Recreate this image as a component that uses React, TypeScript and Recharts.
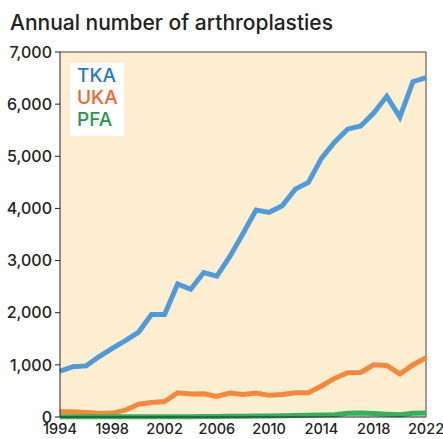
import { LineChart, Line, XAxis, YAxis, CartesianGrid, ReferenceLine } from 'recharts';

const years = [
  1994, 1995, 1996, 1997, 1998, 1999, 2000, 2001, 2002, 2003,
  2004, 2005, 2006, 2007, 2008, 2009, 2010, 2011, 2012, 2013,
  2014, 2015, 2016, 2017, 2018, 2019, 2020, 2021, 2022,
];

const tka = [
  880, 965, 980, 1160, 1315, 1465, 1625, 1965, 1965, 2550,
  2450, 2770, 2700, 3080, 3520, 3970, 3925, 4050, 4370, 4500,
  4960, 5270, 5520, 5580, 5830, 6150, 5750, 6430, 6510,
];

const uka = [
  100, 100, 85, 65, 75, 130, 245, 280, 295, 465,
  440, 445, 395, 460, 430, 460, 415, 430, 465, 465,
  595, 740, 850, 855, 1000, 990, 825, 1000, 1135,
];

const pfa = [
  5, 5, 5, 5, 5, 5, 5, 5, 5, 5,
  5, 8, 10, 12, 15, 18, 20, 25, 30, 35,
  40, 45, 70, 75, 65, 55, 45, 70, 75,
];

const xTicks = [1994, 1998, 2002, 2006, 2010, 2014, 2018, 2022];
const yTicks = [0, 1000, 2000, 3000, 4000, 5000, 6000, 7000];

const series = [
  { key: 'TKA', line: '#4f9bd9', text: '#1f7dc9' },
  { key: 'UKA', line: '#f4883d', text: '#f0652f' },
  { key: 'PFA', line: '#2fb35c', text: '#1f9a4a' },
];

const data = years.map((year, i) => ({ year, TKA: tka[i], UKA: uka[i], PFA: pfa[i] }));

const font = 'Inter, "Liberation Sans", Arial, sans-serif';

// white key box sitting in the top-left of the plot
function LegendBox() {
  return (
    <div
      style={{
        position: 'absolute',
        left: 70,
        top: 63,
        width: 54,
        boxSizing: 'border-box',
        background: '#fff',
        padding: '2px 7px 5px 7px',
        fontFamily: font,
        fontWeight: 500,
        fontSize: 19,
        lineHeight: '22px',
      }}
    >
      {series.map((s) => (
        <div key={s.key} style={{ color: s.text }}>
          {s.key}
        </div>
      ))}
    </div>
  );
}

export default function App() {
  return (
    <div style={{ position: 'absolute', left: 0, top: 0, width: 443, height: 439, background: '#fff' }}>
      <div
        style={{
          position: 'absolute',
          left: 10,
          top: 12,
          fontFamily: font,
          fontWeight: 500,
          fontSize: 21,
          lineHeight: '21px',
          color: '#222',
          whiteSpace: 'nowrap',
        }}
      >
        Annual number of arthroplasties
      </div>
      <LineChart
        width={443}
        height={439}
        data={data}
        margin={{ top: 52, right: 17, left: 0, bottom: 0 }}
      >
        <CartesianGrid horizontal={false} vertical={false} fill="#fdeed2" />
        <XAxis
          dataKey="year"
          type="number"
          domain={[1994, 2022]}
          ticks={xTicks}
          interval={0}
          height={22}
          tickSize={3}
          tickLine={false}
          tickMargin={4}
          stroke="#222"
          tick={{ fill: '#222', fontSize: 14.5, fontWeight: 500, fontFamily: font }}
        />
        <YAxis
          domain={[0, 7000]}
          ticks={yTicks}
          interval={0}
          width={60}
          tickSize={5}
          tickMargin={3}
          stroke="#222"
          tickFormatter={(v: number) => v.toLocaleString('en-US')}
          tick={{ fill: '#222', fontSize: 16, fontWeight: 500, fontFamily: font }}
        />
        <ReferenceLine y={7000} stroke="#444" strokeWidth={1} />
        <ReferenceLine x={2022} stroke="#444" strokeWidth={1} />
        {series.map((s) => (
          <Line
            key={s.key}
            dataKey={s.key}
            stroke={s.line}
            strokeWidth={5}
            dot={false}
            type="linear"
            isAnimationActive={false}
          />
        ))}
      </LineChart>
      <LegendBox />
    </div>
  );
}
